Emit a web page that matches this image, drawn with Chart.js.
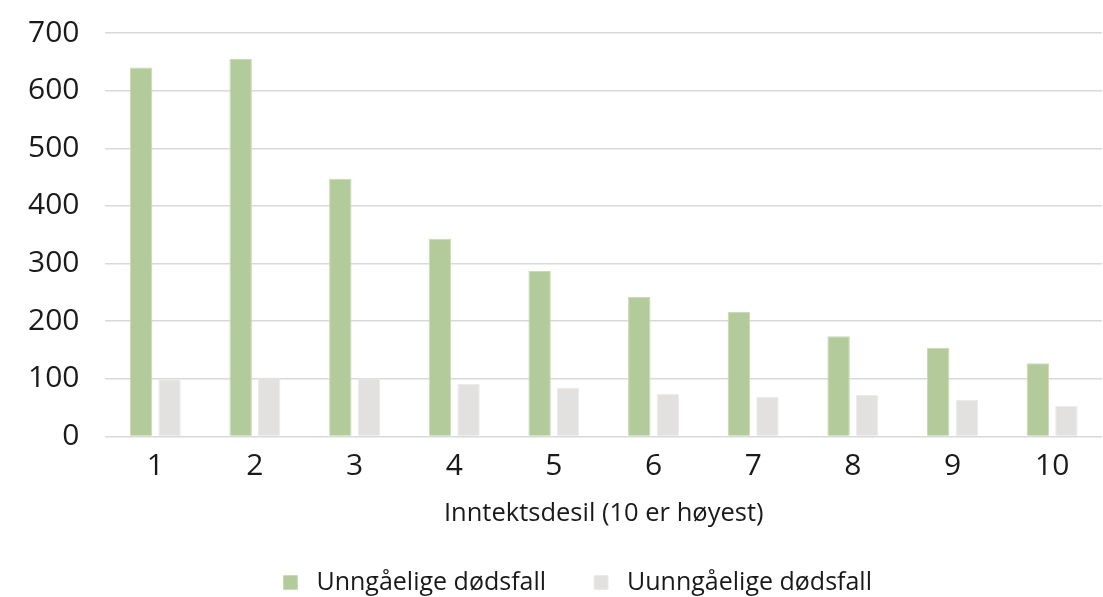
<!DOCTYPE html>
<html>
<head>
<meta charset="utf-8">
<script src="https://cdn.jsdelivr.net/npm/chart.js@4/dist/chart.umd.min.js"></script>
<style>
  html, body { margin: 0; padding: 0; background: #ffffff; }
  #wrap { width: 1103px; height: 597px; }
</style>
</head>
<body>
<div id="wrap"><canvas id="c" width="1103" height="597"></canvas></div>
<script>
// Income deciles (10 = highest)
const deciles = ['1', '2', '3', '4', '5', '6', '7', '8', '9', '10'];
// Avoidable deaths per decile
const unngaaelige = [640, 655, 447, 343, 287, 242, 216, 174, 154, 127];
// Unavoidable deaths per decile
const uunngaaelige = [99, 102, 101, 91, 84, 74, 69, 72, 63, 53];
const yTicks = [0, 100, 200, 300, 400, 500, 600, 700];

const FONT = "'Open Sans', 'Noto Sans', sans-serif";

// Legend sits centred under the plot area rather than under the whole canvas
const legendUnderPlot = {
  id: 'legendUnderPlot',
  afterLayout(chart) {
    const lg = chart.legend;
    const area = chart.chartArea;
    const shift = (area.left + area.right) / 2 - (lg.left + lg.right) / 2 - 26;
    lg.left += shift;
    lg.right += shift;
  }
};

new Chart(document.getElementById('c'), {
  type: 'bar',
  data: {
    labels: deciles,
    datasets: [
      {
        label: 'Unngåelige dødsfall',
        data: unngaaelige,
        backgroundColor: '#b3cb9a',
        borderColor: '#c9dbb6',
        borderWidth: 1
      },
      {
        label: 'Uunngåelige dødsfall',
        data: uunngaaelige,
        backgroundColor: '#e2e1e0',
        borderColor: '#ecebea',
        borderWidth: 1
      }
    ]
  },
  plugins: [legendUnderPlot],
  options: {
    responsive: false,
    animation: false,
    devicePixelRatio: 1,
    layout: { autoPadding: false, padding: { left: 28, right: 1, top: 33, bottom: -8 } },
    datasets: {
      bar: { categoryPercentage: 0.573, barPercentage: 0.786 }
    },
    scales: {
      x: {
        grid: { display: false },
        border: { display: false },
        ticks: { color: '#1a1a1a', font: { family: FONT, size: 30 }, padding: 4 },
        title: {
          display: true,
          text: 'Inntektsdesil (10 er høyest)',
          color: '#1a1a1a',
          font: { family: FONT, size: 25.5 },
          padding: { top: 10, bottom: -7 }
        }
      },
      y: {
        min: 0,
        max: 700,
        afterBuildTicks: (axis) => { axis.ticks = yTicks.map(v => ({ value: v })); },
        grid: {
          color: '#d9d9d9',
          lineWidth: 1.5,
          drawTicks: true,
          tickLength: 26,
          tickColor: 'rgba(0,0,0,0)'
        },
        border: { display: false },
        ticks: { color: '#1a1a1a', font: { family: FONT, size: 30 }, padding: 0 }
      }
    },
    plugins: {
      legend: {
        position: 'bottom',
        labels: {
          color: '#1a1a1a',
          font: { family: FONT, size: 25 },
          boxWidth: 14,
          boxHeight: 14,
          padding: 48,
          generateLabels(chart) {
            return Chart.defaults.plugins.legend.labels.generateLabels(chart)
              .map(item => ({ ...item, text: ' ' + item.text }));
          }
        }
      },
      tooltip: { enabled: false }
    }
  }
});
</script>
</body>
</html>
